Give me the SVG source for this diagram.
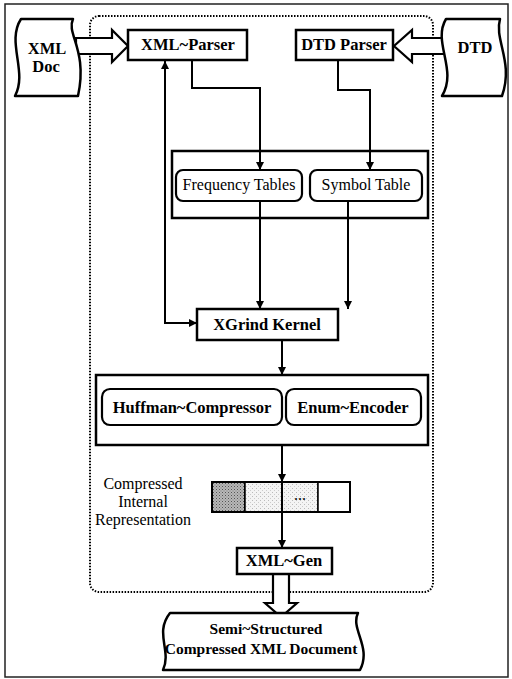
<svg xmlns="http://www.w3.org/2000/svg" width="512" height="679" viewBox="0 0 512 679">
<defs>
<style>
.box{fill:#fff;stroke:#000;stroke-width:2.5}
.frame{fill:none;stroke:#000;stroke-width:2.5}
.rbox{fill:#fff;stroke:#000;stroke-width:2.2}
.doc{fill:#fff;stroke:#000;stroke-width:2.5;stroke-linejoin:round}
.hollow{fill:#fff;stroke:#000;stroke-width:2.2;stroke-linejoin:miter}
.conn{fill:none;stroke:#000;stroke-width:2}
.b{font-family:"Liberation Serif","Times New Roman",serif;font-weight:bold;font-size:16.5px;text-anchor:middle;fill:#000}
.r{font-family:"Liberation Serif","Times New Roman",serif;font-size:16px;text-anchor:middle;fill:#000}
.o{font-family:"Liberation Serif","Times New Roman",serif;font-weight:bold;font-size:15.5px;text-anchor:middle;fill:#000}
</style>
<marker id="ah" viewBox="0 0 10 10" refX="10" refY="5" markerWidth="8" markerHeight="8" markerUnits="userSpaceOnUse" orient="auto-start-reverse">
<path d="M0,0 L10,5 L0,10 Z" fill="#000"/>
</marker>
<pattern id="dark" width="3" height="3" patternUnits="userSpaceOnUse">
<rect width="3" height="3" fill="#b8b8b8"/>
<rect x="0" y="0" width="1" height="1" fill="#555"/>
<rect x="1.5" y="1.5" width="1" height="1" fill="#777"/>
</pattern>
<pattern id="light" width="4" height="4" patternUnits="userSpaceOnUse">
<rect width="4" height="4" fill="#f4f4f4"/>
<rect x="0" y="0" width="1" height="1" fill="#bbb"/>
<rect x="2" y="2" width="1" height="1" fill="#ccc"/>
</pattern>
</defs>
<rect x="0" y="0" width="512" height="679" fill="#fff"/>
<rect x="5" y="4" width="503" height="673" fill="none" stroke="#222" stroke-width="1.5"/>
<rect x="90" y="16" width="343" height="576" rx="9" fill="none" stroke="#000" stroke-width="2" stroke-dasharray="1.5 1.5"/>

<g id="connectors">
<path class="conn" d="M165,61 V323 H197" marker-start="url(#ah)" marker-end="url(#ah)"/>
<path class="conn" d="M192,60 V88 H260 V170" marker-end="url(#ah)"/>
<path class="conn" d="M338,60 V90 H370 V170" marker-end="url(#ah)"/>
<path class="conn" d="M260,202 V309" marker-end="url(#ah)"/>
<path class="conn" d="M348,202 V309" marker-end="url(#ah)"/>
<path class="conn" d="M282,340 V375" marker-end="url(#ah)"/>
<path class="conn" d="M282,445 V482" marker-end="url(#ah)"/>
<path class="conn" d="M282,512 V548" marker-end="url(#ah)"/>
<polygon class="hollow" points="76,38 112,38 112,30 128,46 112,62 112,54 76,54"/>
<polygon class="hollow" points="454,38 412,38 412,30 394,46 412,62 412,54 454,54"/>
<polygon class="hollow" points="273,574 289,574 289,603 297,603 281,617 265,603 273,603"/>
</g>

<g id="xmldoc">
<path class="doc" d="M21,19 L73,19 C66,34 88,50 78,96 L15,96 C28,72 6,42 21,19 Z"/>
<text class="b" x="47" y="54">XML</text>
<text class="b" x="46" y="72">Doc</text>
</g>

<g id="dtd">
<path class="doc" d="M446,19 L500,19 C494,40 514,62 502,96 L442,96 C458,70 432,42 446,19 Z"/>
<text class="b" x="475" y="53">DTD</text>
</g>

<g id="xmlparser">
<rect class="box" x="128" y="30" width="119" height="30"/>
<text class="b" x="188" y="50">XML~Parser</text>
</g>

<g id="dtdparser">
<rect class="box" x="296" y="30" width="97" height="30"/>
<text class="b" x="344" y="50">DTD Parser</text>
</g>

<g id="tables">
<rect class="frame" x="172" y="151" width="256" height="67"/>
<g id="freqtables">
<rect class="rbox" x="176" y="170" width="126" height="31" rx="7"/>
<text class="r" x="239" y="190">Frequency Tables</text>
</g>
<g id="symboltable">
<rect class="rbox" x="310" y="170" width="112" height="31" rx="7"/>
<text class="r" x="366" y="190">Symbol Table</text>
</g>
</g>

<g id="xgrind">
<rect class="box" x="197" y="309" width="141" height="31"/>
<text class="b" x="267" y="330">XGrind Kernel</text>
</g>

<g id="compressor">
<rect class="frame" x="96" y="375" width="332" height="70"/>
<g id="huffman">
<rect class="rbox" x="102" y="389" width="180" height="36" rx="8"/>
<text class="b" x="192" y="413">Huffman~Compressor</text>
</g>
<g id="enum">
<rect class="rbox" x="286" y="389" width="135" height="36" rx="8"/>
<text class="b" x="353" y="413">Enum~Encoder</text>
</g>
</g>

<g id="cir">
<rect x="212" y="482" width="33" height="30" fill="url(#dark)" stroke="#000" stroke-width="2"/>
<rect x="245" y="482" width="37" height="30" fill="url(#light)" stroke="#000" stroke-width="1.5"/>
<rect x="282" y="482" width="36" height="30" fill="url(#light)" stroke="#000" stroke-width="1.5"/>
<rect x="318" y="482" width="32" height="30" fill="#fff" stroke="#000" stroke-width="1.5"/>
<rect x="212" y="482" width="138" height="30" fill="none" stroke="#000" stroke-width="2"/>
<line x1="282" y1="482" x2="282" y2="512" stroke="#000" stroke-width="2"/>
<text class="r" x="300" y="500">...</text>
<text class="r" x="143" y="489">Compressed</text>
<text class="r" x="143" y="507">Internal</text>
<text class="r" x="143" y="525">Representation</text>
</g>

<g id="xmlgen">
<rect class="box" x="237" y="548" width="95" height="26"/>
<text class="b" x="284" y="566">XML~Gen</text>
</g>

<g id="output">
<path class="doc" d="M170,613 L358,613 C350,629 372,647 360,670 L163,670 C172,651 154,633 170,613 Z"/>
<text class="o" x="266" y="634">Semi~Structured</text>
<text class="o" x="261" y="654">Compressed XML Document</text>
</g>
</svg>
